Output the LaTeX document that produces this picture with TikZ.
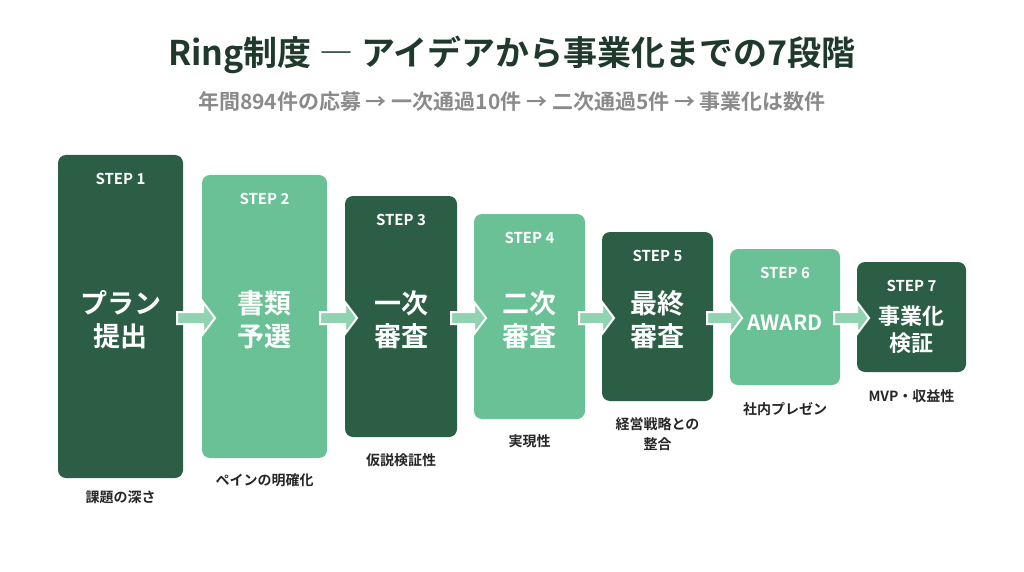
\documentclass[tikz,border=0pt]{standalone}
\usepackage{fontspec}
\setmainfont{Noto Sans CJK JP}[BoldFont={* Bold}]
\definecolor{dk}{HTML}{2C5E45}
\definecolor{lt}{HTML}{6BC196}
\definecolor{ar}{HTML}{8FD3B0}
\definecolor{ttl}{HTML}{1F3A2D}
\definecolor{sub}{HTML}{8A8A8A}
\begin{document}
\begin{tikzpicture}[x=1pt,y=-1pt,
 box/.style={rounded corners=8pt},
 steplbl/.style={text=white,font=\fontsize{15}{15}\selectfont\bfseries},
 big/.style={text=white,align=center},
 lab/.style={text=black!85,font=\fontsize{14}{20}\selectfont\bfseries,align=center}]
\useasboundingbox (0,0) rectangle (1024,572);
\node[text=ttl,font=\fontsize{34}{34}\selectfont\bfseries] (t) at (512,55) {Ring制度 ― アイデアから事業化までの7段階};
\node[text=sub,font=\fontsize{21}{21}\selectfont\bfseries] (s) at (512,102) {年間894件の応募 → 一次通過10件 → 二次通過5件 → 事業化は数件};
\foreach \i/\a/\b/\c/\d/\col/\txt/\lb/\ly/\fs/\bs/\my in {
 1/58/155/183/478/dk/{プラン\\提出}/{課題の深さ}/497/27/33/320,
 2/202/175/327/458/lt/{書類\\予選}/{ペインの明確化}/480/27/33/320,
 3/345/196/457/437/dk/{一次\\審査}/{仮説検証性}/460/27/33/320,
 4/474/214/585/419/lt/{二次\\審査}/{実現性}/441/27/33/320,
 5/602/232/713/401/dk/{最終\\審査}/{経営戦略との\\整合}/434/27/33/320,
 6/730/249/840/385/lt/{AWARD}/{社内プレゼン}/409/21/25/323,
 7/857/262/966/372/dk/{事業化\\検証}/{MVP・収益性}/396/22/27/330}{
 \fill[box,\col] (\a,\b) rectangle (\c,\d);
 \node[steplbl] (st\i) at ({(\a+\c)/2},\b+24) {STEP \i};
 \node[big,font=\fontsize{\fs}{\bs}\selectfont\bfseries] (m\i) at ({(\a+\c)/2},\my) {\txt};
 \node[lab] (l\i) at ({(\a+\c)/2},\ly) {\lb};
}
\foreach \x/\y in {177/215,320/357,451/486,579/614,707/742,834/869}{
 \fill[ar,draw=white,line width=2pt,line join=miter]
  (\x,312) -- (\y-12,312) -- (\y-12,302) -- (\y,318) -- (\y-12,334) -- (\y-12,324) -- (\x,324) -- cycle;
}
\end{tikzpicture}
\end{document}
